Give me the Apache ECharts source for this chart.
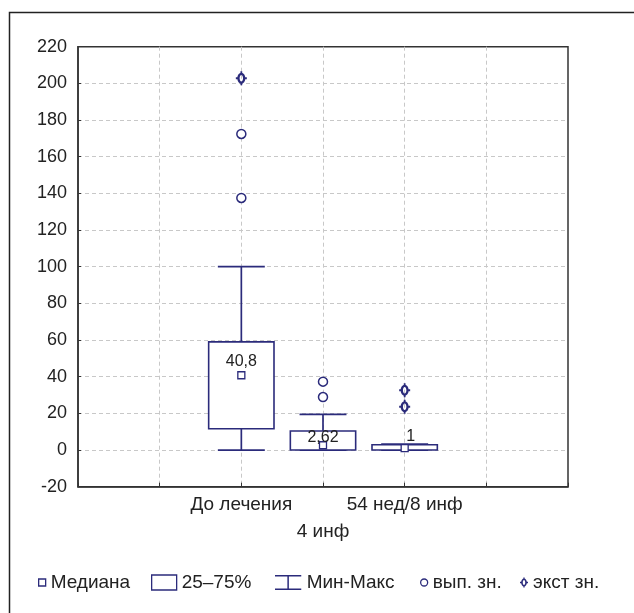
<!DOCTYPE html>
<html>
<head>
<meta charset="utf-8">
<script src="https://cdn.jsdelivr.net/npm/echarts@6/dist/echarts.min.js"></script>
<style>
html,body{margin:0;padding:0;background:#fff;}
#c{width:634px;height:613px;}
</style>
</head>
<body>
<div id="c"></div>
<script>
// ---- data ----
const categories = ['', '', 'До лечения', '4 инф', '54 нед/8 инф', '', ''];
const boxIndex = [2, 3, 4];
const minVals = [0, 0, 0];
const q1Vals = [11.6, 0, 0];
const medianVals = [40.8, 2.62, 1];
const q3Vals = [59, 10.4, 2.9];
const maxVals = [100, 19.5, 3.3];
const medianLabels = ['40,8', '2,62', '1'];
const outlierCat = [2, 2, 3, 3];
const outlierVals = [137.5, 172.4, 28.9, 37.3];
const extremeCat = [2, 4, 4];
const extremeVals = [202.8, 23.6, 32.6];
const yTicks = {min: -20, max: 220, interval: 20};

// ---- styles ----
const NAVY = '#2b2b7b';
const TXT = '#222';
const FONT = 'Liberation Sans, Arial, sans-serif';
const labelOffsets = [[0, -14], [0, -8], [6, -12]];
const extremePath = 'path://' +
  'M0,-5.5 C2.209,-5.5 4,-3.038 4,0 C4,3.038 2.209,5.5 0,5.5 C-2.209,5.5 -4,3.038 -4,0 C-4,-3.038 -2.209,-5.5 0,-5.5 Z ' +
  'M0,-3.3 C-0.94,-3.3 -1.7,-1.823 -1.7,0 C-1.7,1.823 -0.94,3.3 0,3.3 C0.94,3.3 1.7,1.823 1.7,0 C1.7,-1.823 0.94,-3.3 0,-3.3 Z ' +
  'M-5.5,-0.9 H-3.5 V0.9 H-5.5 Z M3.5,-0.9 H5.5 V0.9 H3.5 Z M-0.9,-7 H0.9 V-5 H-0.9 Z M-0.9,5 H0.9 V7 H-0.9 Z';
const whiskerIcon = 'path://M0,0 H28 V1.6 H14.8 V14.4 H28 V16 H0 V14.4 H13.2 V1.6 H0 Z';

const chart = echarts.init(document.getElementById('c'), null, {renderer: 'canvas'});

const legendBase = {
  top: 573, orient: 'horizontal', selectedMode: false, padding: 0,
  textStyle: {fontSize: 19, color: TXT, fontFamily: FONT}
};

const option = {
  animation: false,
  backgroundColor: '#fff',
  graphic: [{
    type: 'rect', silent: true, z: -10,
    shape: {x: 9.5, y: 12.5, width: 800, height: 800},
    style: {fill: 'none', stroke: '#222', lineWidth: 1.5}
  }],
  grid: {left: 78, right: 66, top: 46.7, bottom: 126.3, show: true,
    borderColor: '#333', borderWidth: 1.5, backgroundColor: 'transparent'},
  xAxis: {
    type: 'category', data: categories, boundaryGap: false,
    axisLine: {onZero: false, lineStyle: {color: '#333', width: 1.5}},
    axisTick: {inside: true, length: 4, lineStyle: {color: '#333'}},
    axisLabel: {
      interval: 0, margin: 5, fontSize: 19, color: TXT, fontFamily: FONT, lineHeight: 27,
      formatter: (v, i) => (i === 3 ? '\n' + v : v)
    },
    splitLine: {show: true, interval: 0, showMinLine: false, showMaxLine: false,
      lineStyle: {color: '#c8c8c8', type: [4, 3], width: 1}}
  },
  yAxis: {
    type: 'value', min: yTicks.min, max: yTicks.max, interval: yTicks.interval,
    axisLine: {show: true, lineStyle: {color: '#333', width: 1.5}},
    axisTick: {show: true, inside: true, length: 3, lineStyle: {color: '#333'}},
    axisLabel: {fontSize: 18, color: TXT, fontFamily: FONT, margin: 11},
    splitLine: {show: true, showMinLine: false, showMaxLine: false,
      lineStyle: {color: '#c8c8c8', type: [4, 3], width: 1}}
  },
  legend: [
    Object.assign({}, legendBase, {left: 38, data: ['Медиана'], icon: 'rect', itemWidth: 7, itemHeight: 7,
      itemStyle: {color: '#fff', borderColor: NAVY, borderWidth: 1.3}}),
    Object.assign({}, legendBase, {left: 151, data: ['25–75%'], icon: 'rect', itemWidth: 25, itemHeight: 15,
      itemStyle: {color: '#fff', borderColor: NAVY, borderWidth: 1.3}}),
    Object.assign({}, legendBase, {left: 275, data: ['Мин-Макс'], icon: whiskerIcon, itemWidth: 27, itemHeight: 15,
      itemStyle: {color: NAVY, borderWidth: 0}}),
    Object.assign({}, legendBase, {left: 420, data: ['вып. зн.'], icon: 'circle', itemWidth: 7, itemHeight: 7,
      itemStyle: {color: '#fff', borderColor: NAVY, borderWidth: 1.3}}),
    Object.assign({}, legendBase, {left: 520, data: ['экст зн.'], icon: extremePath, itemWidth: 8, itemHeight: 11,
      itemStyle: {color: NAVY, borderWidth: 0}})
  ],
  series: [
    {
      name: 'Мин-Макс', type: 'custom', z: 2,
      data: boxIndex.map((c, i) => [c, minVals[i], q1Vals[i], q3Vals[i], maxVals[i]]),
      encode: {x: 0, y: [1, 2, 3, 4]},
      renderItem: function (params, api) {
        const x = api.value(0);
        const pMin = api.coord([x, api.value(1)]);
        const pQ1 = api.coord([x, api.value(2)]);
        const pQ3 = api.coord([x, api.value(3)]);
        const pMax = api.coord([x, api.value(4)]);
        const cw = api.size([1, 0])[0] * 0.575;
        const st = {stroke: NAVY, lineWidth: 1.7};
        return {type: 'group', children: [
          {type: 'line', shape: {x1: pQ3[0], y1: pQ3[1], x2: pMax[0], y2: pMax[1]}, style: st},
          {type: 'line', shape: {x1: pMax[0] - cw / 2, y1: pMax[1], x2: pMax[0] + cw / 2, y2: pMax[1]}, style: st},
          {type: 'line', shape: {x1: pQ1[0], y1: pQ1[1], x2: pMin[0], y2: pMin[1]}, style: st},
          {type: 'line', shape: {x1: pMin[0] - cw / 2, y1: pMin[1], x2: pMin[0] + cw / 2, y2: pMin[1]}, style: st}
        ]};
      }
    },
    {
      name: '25–75%', type: 'custom', z: 3,
      data: boxIndex.map((c, i) => [c, q1Vals[i], q3Vals[i]]),
      encode: {x: 0, y: [1, 2]},
      renderItem: function (params, api) {
        const x = api.value(0);
        const lo = api.coord([x, api.value(1)]);
        const hi = api.coord([x, api.value(2)]);
        const w = api.size([1, 0])[0] * 0.8;
        return {type: 'rect', shape: {x: lo[0] - w / 2, y: hi[1], width: w, height: lo[1] - hi[1]},
          style: {fill: '#fff', stroke: NAVY, lineWidth: 1.6}};
      }
    },
    {
      name: 'Медиана', type: 'scatter', z: 5,
      symbol: 'rect', symbolSize: 7,
      itemStyle: {color: '#fff', borderColor: NAVY, borderWidth: 1.3, opacity: 1},
      data: boxIndex.map((c, i) => ({value: [c, medianVals[i]],
        label: {offset: labelOffsets[i]}})),
      label: {show: true, position: 'inside', fontSize: 16, color: TXT, fontFamily: FONT,
        formatter: p => medianLabels[p.dataIndex]}
    },
    {
      name: 'вып. зн.', type: 'scatter', z: 4,
      symbol: 'circle', symbolSize: 9,
      itemStyle: {color: '#fff', borderColor: NAVY, borderWidth: 1.5, opacity: 1},
      data: outlierCat.map((c, i) => [c, outlierVals[i]])
    },
    {
      name: 'экст зн.', type: 'scatter', z: 4,
      symbol: extremePath, symbolSize: [11, 14],
      itemStyle: {color: NAVY, opacity: 1},
      data: extremeCat.map((c, i) => [c, extremeVals[i]])
    }
  ]
};
chart.setOption(option);
</script>
</body>
</html>
